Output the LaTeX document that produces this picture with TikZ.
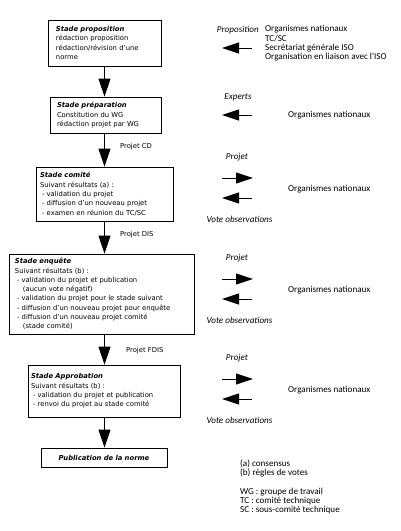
\documentclass[tikz,border=0pt]{standalone}
\usepackage{fontspec}
\setmainfont{DejaVu Sans}
\newfontfamily\rfont{Carlito}
\usetikzlibrary{arrows.meta,calc}
\begin{document}
\begin{tikzpicture}[x=1pt,y=-1pt,
  boxtxt/.style={font=\fontsize{6.8}{9.3}\selectfont},
  stage/.style={draw, line width=0.8pt, align=left, inner ysep=0pt, boxtxt},
  bigarrow/.style={line width=0.8pt, -{Triangle[length=18pt,width=12pt]}},
  sidearrow/.style={line width=0.8pt, -{Triangle[length=17pt,width=11pt]}},
  rtxt/.style={font=\rfont\fontsize{9.1}{9.3}\selectfont, inner sep=0pt, align=left},
  itxt/.style={rtxt, font=\rfont\itshape\fontsize{9.1}{9.3}\selectfont},
  ltxt/.style={boxtxt, inner sep=0pt, anchor=west}]
\useasboundingbox (0,0) rectangle (400,531);
\newcommand{\ttl}[1]{\textbf{\textit{#1}}}
% stages
\node[stage, minimum width=113pt, minimum height=46pt, text width=97pt, inner xsep=8pt] (b1) at (104.5,43)
 {\ttl{Stade proposition}\\rédaction proposition\\rédaction/révision d'une\\norme};
\node[stage, minimum width=111pt, minimum height=36pt, text width=97pt, inner xsep=7pt] (b2) at (105.5,115)
 {\ttl{Stade préparation}\\Constitution du WG\\rédaction projet par WG};
\node[stage, minimum width=137pt, minimum height=54pt, text width=129pt, inner xsep=4pt] (b3) at (104.5,194)
 {\ttl{Stade comité}\\Suivant résultats (a) :\\\hspace*{2pt}- validation du projet\\\hspace*{2pt}- diffusion d'un nouveau projet\\\hspace*{2pt}- examen en réunion du TC/SC};
\node[stage, minimum width=185pt, minimum height=80pt, text width=173pt, inner xsep=6pt] (b4) at (101.5,294)
 {\ttl{Stade enquête}\\Suivant résultats (b) :\\\hspace*{2pt}- validation du projet et publication\\\hspace*{8pt}(aucun vote négatif)\\\hspace*{2pt}- validation du projet pour le stade suivant\\\hspace*{2pt}- diffusion d'un nouveau projet pour enquête\\\hspace*{2pt}- diffusion d'un nouveau projet comité\\\hspace*{8pt}(stade comité)};
\node[stage, minimum width=152pt, minimum height=52pt, text width=146pt, inner xsep=3pt] (b5) at (104,391)
 {\ttl{Stade Approbation}\\Suivant résultats (b) :\\\hspace*{2pt}- validation du projet et publication\\\hspace*{2pt}- renvoi du projet au stade comité};
\node[stage, minimum width=126pt, minimum height=19pt, text width=110pt, inner xsep=8pt, align=center] (b6) at (104,457.5)
 {\ttl{Publication de la norme}};
% main arrows
\draw[bigarrow] (b1.south) -- (b1.south |- b2.north);
\draw[bigarrow] (b2.south -| b1.south) -- (b1.south |- b3.north);
\draw[bigarrow] (b3.south -| b1.south) -- (b1.south |- b4.north);
\draw[bigarrow] (b4.south -| b1.south) -- (b1.south |- b5.north);
\draw[bigarrow] (b5.south -| b1.south) -- (b1.south |- b6.north);
\node[ltxt] (pcd) at (120,147) {Projet CD};
\node[ltxt] (pdis) at (120,235) {Projet DIS};
\node[ltxt] (pfdis) at (126,351) {Projet FDIS};
% right side: proposition
\node[itxt, anchor=east] (lprop) at (259,30) {Proposition};
\node[rtxt, anchor=north west] (oprop) at (265,25.5) {Organismes nationaux\\TC/SC\\Secrétariat générale ISO\\Organisation en liaison avec l'ISO};
\coordinate (p1s) at (252,48); \coordinate (p1e) at (222,48);
\draw[sidearrow] (p1s) -- (p1e);
% experts
\node[itxt] (lexp) at (238,97) {Experts};
\node[rtxt, anchor=west] (oexp) at (288,115) {Organismes nationaux};
\coordinate (p2s) at (252,115); \coordinate (p2e) at (222,115);
\draw[sidearrow] (p2s) -- (p2e);
% three vote blocks
\foreach \yy/\nm in {157/c, 258/e, 358/a}{
  \node[itxt] (proj\nm) at (237,\yy) {Projet};
  \node[itxt] (vote\nm) at (239.5,\yy+62) {Vote observations};
  \node[rtxt, anchor=west] (org\nm) at (288,\yy+32) {Organismes nationaux};
  \coordinate (r\nm s) at (222,\yy+21); \coordinate (r\nm e) at (253,\yy+21);
  \coordinate (l\nm s) at (252,\yy+41); \coordinate (l\nm e) at (222,\yy+41);
  \draw[sidearrow] (r\nm s) -- (r\nm e);
  \draw[sidearrow] (l\nm s) -- (l\nm e);
}
% legend
\node[rtxt, anchor=north west] (leg) at (240,459.5) {(a) consensus\\(b) règles de votes\\[9.3pt]WG : groupe de travail\\TC : comité technique\\SC : sous-comité technique};
\end{tikzpicture}
\end{document}
